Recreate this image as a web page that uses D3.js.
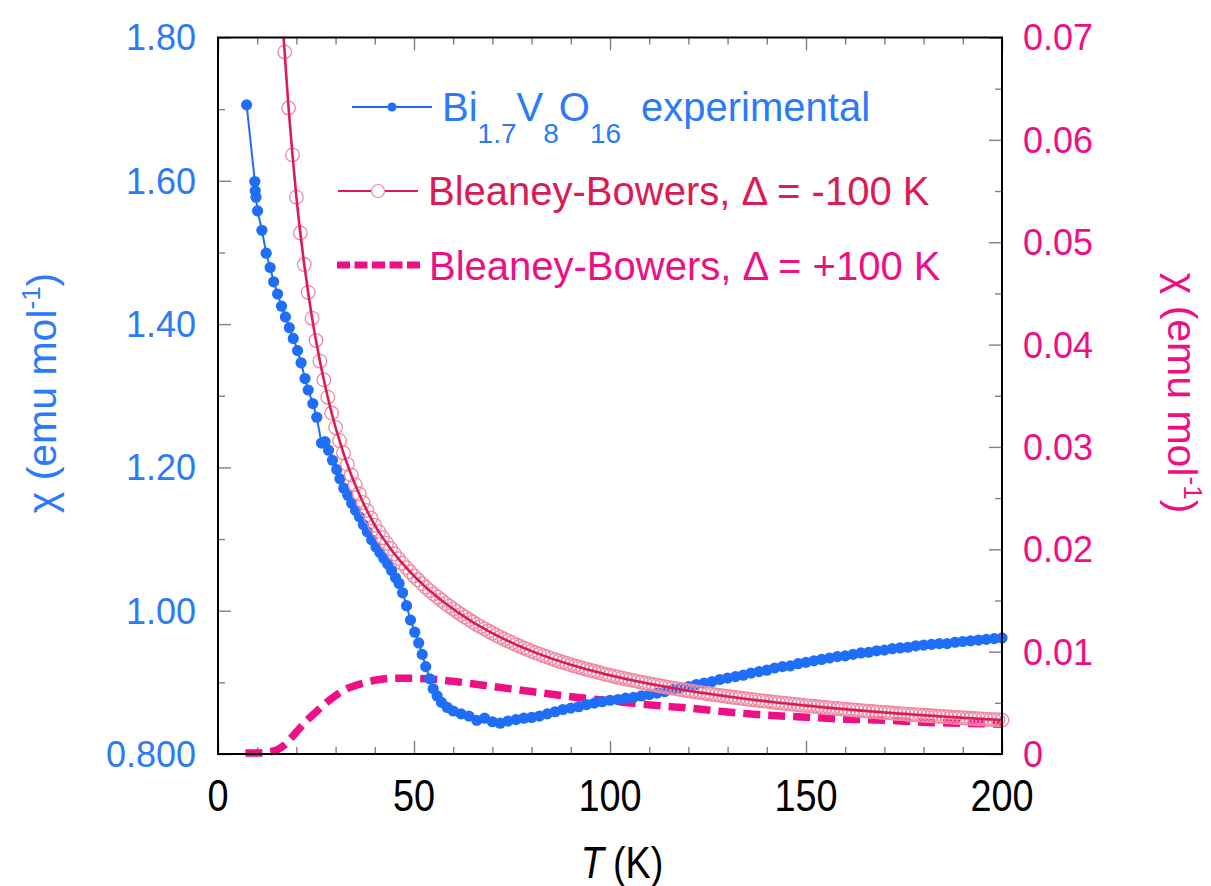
<!DOCTYPE html>
<html lang="en">
<head>
<meta charset="UTF-8">
<script src="https://cdn.jsdelivr.net/npm/d3@7/dist/d3.min.js"></script>
<title>Bi1.7V8O16 susceptibility</title>
<style>
  body { margin: 0; background: #fff; }
  text { font-family: "Liberation Sans", Arial, sans-serif; }
</style>
</head>
<body>
<svg width="1211" height="886"></svg>
<script>
  // measured susceptibility, left axis
  var expT = [7.3, 9.4, 9.5, 9.7, 10.1, 11.2, 12.3, 13.3, 14.2, 15.2, 16.2, 17.2, 18.2, 19.2, 20.3,
    21.2, 22.2, 23.0, 24.2, 25.2, 26.4, 27.3, 28.2, 29.2, 30.3, 31.1, 32.1, 33.1, 34.1, 35.1,
    36.1, 37.1, 38.1, 39.2, 40.3, 41.3, 42.3, 43.3, 44.3, 45.3, 46.2, 47.1, 48.1, 49.1, 50.2,
    51.2, 52.1, 53.0, 54.0, 54.9, 55.9, 57.0, 58.5, 60, 62, 64, 66, 68, 70, 72, 74, 76, 78, 80,
    82, 84, 86, 88, 90, 92, 94, 96, 98, 100, 102, 104, 106, 108, 110, 112, 114, 116, 118, 120,
    122, 124, 126, 128, 130, 132, 134, 136, 138, 140, 142, 144, 146, 148, 150, 152, 154, 156,
    158, 160, 162, 164, 166, 168, 170, 172, 174, 176, 178, 180, 182, 184, 186, 188, 190, 192,
    194, 196, 198, 200];
  var expChi = [1.706, 1.599, 1.586, 1.577, 1.558, 1.531, 1.499, 1.479, 1.459, 1.442, 1.425, 1.410, 1.395, 1.380, 1.363,
    1.346, 1.324, 1.308, 1.289, 1.270, 1.234, 1.236, 1.224, 1.210, 1.197, 1.184, 1.171, 1.161, 1.150, 1.140,
    1.131, 1.120, 1.110, 1.099, 1.089, 1.081, 1.073, 1.065, 1.056, 1.046, 1.038, 1.025, 1.007, 0.987, 0.970,
    0.955, 0.939, 0.922, 0.905, 0.891, 0.881, 0.872, 0.865, 0.860, 0.856, 0.853, 0.847, 0.850, 0.845, 0.843, 0.846, 0.848, 0.850, 0.851,
    0.853, 0.856, 0.859, 0.862, 0.864, 0.866, 0.869, 0.871, 0.873, 0.875, 0.876, 0.878, 0.879, 0.881, 0.883, 0.885, 0.887, 0.890, 0.892, 0.894,
    0.897, 0.899, 0.901, 0.904, 0.906, 0.908, 0.910, 0.913, 0.915, 0.917, 0.920, 0.922, 0.923, 0.926, 0.928, 0.930, 0.932, 0.934,
    0.936, 0.937, 0.939, 0.941, 0.942, 0.944, 0.945, 0.947, 0.948, 0.949, 0.951, 0.952, 0.953, 0.954, 0.954, 0.956, 0.957, 0.958,
    0.959, 0.960, 0.961, 0.962];

  // Bleaney-Bowers, Delta = -100 K (right axis), one point per kelvin
  var bbNegT = [16.5].concat(d3.range(17, 201));
  var bbNeg = [0.0713,
    0.06859, 0.06311, 0.05853, 0.05440, 0.05090, 0.04782, 0.04509, 0.04258, 0.04040, 0.03838,
    0.03656, 0.03486, 0.03331, 0.03190, 0.03061, 0.02941, 0.02830, 0.02726, 0.02631, 0.02542,
    0.02457, 0.02379, 0.02305, 0.02235, 0.02173, 0.02114, 0.02060, 0.02007, 0.01956, 0.01909,
    0.01864, 0.01821, 0.01780, 0.01740, 0.01702, 0.01665, 0.01630, 0.01596, 0.01564, 0.01532,
    0.01502, 0.01472, 0.01444, 0.01417, 0.01390, 0.01363, 0.01338, 0.01313, 0.01289, 0.01266,
    0.01244, 0.01222, 0.01201, 0.01180, 0.01160, 0.01141, 0.01122, 0.01104, 0.01087, 0.01069,
    0.01053, 0.01036, 0.01021, 0.01005, 0.00990, 0.00976, 0.00961, 0.00948, 0.00934, 0.00921,
    0.00909, 0.00896, 0.00884, 0.00872, 0.00861, 0.00850, 0.00839, 0.00828, 0.00818, 0.00808,
    0.00798, 0.00788, 0.00778, 0.00769, 0.00760, 0.00751, 0.00743, 0.00734, 0.00726, 0.00718,
    0.00710, 0.00702, 0.00694, 0.00686, 0.00679, 0.00672, 0.00665, 0.00658, 0.00651, 0.00644,
    0.00638, 0.00631, 0.00625, 0.00618, 0.00612, 0.00606, 0.00601, 0.00595, 0.00589, 0.00584,
    0.00578, 0.00573, 0.00568, 0.00562, 0.00557, 0.00552, 0.00547, 0.00542, 0.00537, 0.00533,
    0.00528, 0.00523, 0.00519, 0.00514, 0.00510, 0.00506, 0.00501, 0.00497, 0.00493, 0.00489,
    0.00485, 0.00481, 0.00477, 0.00473, 0.00470, 0.00466, 0.00462, 0.00458, 0.00455, 0.00451,
    0.00448, 0.00444, 0.00441, 0.00438, 0.00434, 0.00431, 0.00428, 0.00424, 0.00421, 0.00418,
    0.00415, 0.00412, 0.00409, 0.00406, 0.00403, 0.00400, 0.00397, 0.00394, 0.00392, 0.00389,
    0.00386, 0.00384, 0.00381, 0.00378, 0.00376, 0.00373, 0.00371, 0.00368, 0.00366, 0.00363,
    0.00361, 0.00358, 0.00356, 0.00354, 0.00351, 0.00349, 0.00347, 0.00345, 0.00343, 0.00340,
    0.00338, 0.00336, 0.00334, 0.00332];

  // Bleaney-Bowers, Delta = +100 K (right axis)
  var bbPosT = [7, 10, 13, 15, 17, 19, 21, 23, 25, 27, 30, 33, 36, 40, 45, 50, 55, 60, 70, 80,
    90, 100, 110, 120, 130, 140, 150, 160, 170, 180, 190, 200];
  var bbPos = [0.0001, 0.0001, 0.0002, 0.0004, 0.0009, 0.0017, 0.0026, 0.0034, 0.0041, 0.0048,
    0.0057, 0.0064, 0.0068, 0.0072, 0.0074, 0.0074, 0.0073, 0.0071, 0.0066, 0.0061,
    0.0056, 0.0052, 0.0048, 0.0045, 0.0041, 0.0038, 0.0036, 0.0034, 0.0033, 0.0031, 0.0030, 0.0029];

  var xTicks = [0, 50, 100, 150, 200];
  var xMinor = [10, 20, 30, 40, 60, 70, 80, 90, 110, 120, 130, 140, 160, 170, 180, 190];
  var leftTicks = [0.8, 1.0, 1.2, 1.4, 1.6, 1.8];
  var leftTickLabels = ["0.800", "1.00", "1.20", "1.40", "1.60", "1.80"];
  var leftMinor = [0.9, 1.1, 1.3, 1.5, 1.7];
  var rightTicks = [0, 0.01, 0.02, 0.03, 0.04, 0.05, 0.06, 0.07];
  var rightTickLabels = ["0", "0.01", "0.02", "0.03", "0.04", "0.05", "0.06", "0.07"];
  var rightMinor = [0.005, 0.015, 0.025, 0.035, 0.045, 0.055, 0.065];

  var blue = "#2b7af7", blueDot = "#1f6ef8";
  var crimson = "#dc1a55", pinkCircle = "#f08aa3", magenta = "#ee0f84";

  var svg = d3.select("svg");
  var pLeft = 218, pRight = 1002, pTop = 37.5, pBottom = 754;

  var x = d3.scaleLinear().domain([0, 200]).range([pLeft, pRight]);
  var yL = d3.scaleLinear().domain([0.8, 1.8]).range([pBottom, pTop]);
  var yR = d3.scaleLinear().domain([0, 0.07]).range([pBottom, pTop]);

  // only the top edge cuts the data off
  svg.append("clipPath").attr("id", "clip")
    .append("rect").attr("x", 0).attr("y", pTop).attr("width", 1211).attr("height", 886 - pTop);

  // ticks (inward)
  function tickAxis(axis, scale, vals, size, tx, ty) {
    var g = svg.append("g")
      .attr("transform", "translate(" + tx + "," + ty + ")")
      .call(axis(scale).tickValues(vals).tickSizeInner(-size).tickSizeOuter(0).tickFormat(""));
    g.select(".domain").remove();
    g.selectAll("line").attr("stroke", "#808080").attr("stroke-width", 1.4);
    g.selectAll("text").remove();
  }
  tickAxis(d3.axisBottom, x, xTicks, 13, 0, pBottom);
  tickAxis(d3.axisBottom, x, xMinor, 7, 0, pBottom);
  tickAxis(d3.axisTop, x, xTicks, 13, 0, pTop);
  tickAxis(d3.axisTop, x, xMinor, 7, 0, pTop);
  tickAxis(d3.axisLeft, yL, leftTicks, 13, pLeft, 0);
  tickAxis(d3.axisLeft, yL, leftMinor, 7, pLeft, 0);
  tickAxis(d3.axisRight, yR, rightTicks, 13, pRight, 0);
  tickAxis(d3.axisRight, yR, rightMinor, 7, pRight, 0);

  // squeeze a text horizontally (the x labels use a narrow face)
  function narrow(sel, k) {
    sel.each(function () {
      var w = this.getComputedTextLength();
      d3.select(this).attr("textLength", w * k).attr("lengthAdjust", "spacingAndGlyphs");
    });
  }

  // tick labels
  svg.selectAll(".xlab").data(xTicks).enter().append("text")
    .attr("x", d => x(d)).attr("y", 811)
    .attr("text-anchor", "middle").attr("font-size", 44).attr("fill", "#000")
    .text(d => d)
    .call(narrow, 0.86);
  svg.selectAll(".llab").data(leftTicks).enter().append("text")
    .attr("x", 196).attr("y", d => yL(d)).attr("dy", "0.36em")
    .attr("text-anchor", "end").attr("font-size", 36).attr("fill", blue)
    .text((d, i) => leftTickLabels[i]);
  svg.selectAll(".rlab").data(rightTicks).enter().append("text")
    .attr("x", 1023).attr("y", d => yR(d)).attr("dy", "0.36em")
    .attr("text-anchor", "start").attr("font-size", 36).attr("fill", magenta)
    .text((d, i) => rightTickLabels[i]);

  var plot = svg.append("g").attr("clip-path", "url(#clip)");

  // +100 K dashed
  plot.append("path")
    .datum(bbPosT.map((t, i) => [t, bbPos[i]]))
    .attr("fill", "none").attr("stroke", magenta).attr("stroke-width", 7.5)
    .attr("stroke-dasharray", "17,8")
    .attr("d", d3.line().x(d => x(d[0])).y(d => yR(d[1])).curve(d3.curveMonotoneX));

  // experimental
  var expData = expT.map((t, i) => [t, expChi[i]]);
  plot.append("path").datum(expData)
    .attr("fill", "none").attr("stroke", blueDot).attr("stroke-width", 2)
    .attr("d", d3.line().x(d => x(d[0])).y(d => yL(d[1])));
  plot.selectAll(".dot").data(expData).enter().append("circle")
    .attr("cx", d => x(d[0])).attr("cy", d => yL(d[1])).attr("r", 5.6)
    .attr("fill", blueDot);

  // -100 K circles and line
  var negData = bbNegT.map((t, i) => [t, bbNeg[i]]);
  plot.selectAll(".ring").data(negData).enter().append("circle")
    .attr("cx", d => x(d[0])).attr("cy", d => yR(d[1])).attr("r", 6.8)
    .attr("fill", "none").attr("stroke", pinkCircle).attr("stroke-width", 1.3);
  plot.append("path").datum(negData)
    .attr("fill", "none").attr("stroke", crimson).attr("stroke-width", 2.6)
    .attr("d", d3.line().x(d => x(d[0])).y(d => yR(d[1])).curve(d3.curveMonotoneX));

  // frame
  svg.append("rect")
    .attr("x", pLeft).attr("y", pTop).attr("width", pRight - pLeft).attr("height", pBottom - pTop)
    .attr("fill", "none").attr("stroke", "#000").attr("stroke-width", 2);

  // legend
  svg.append("line").attr("x1", 352).attr("x2", 432).attr("y1", 107).attr("y2", 107)
    .attr("stroke", blueDot).attr("stroke-width", 2);
  svg.append("circle").attr("cx", 392).attr("cy", 107).attr("r", 4.5).attr("fill", blueDot);
  var t1 = svg.append("text").attr("x", 442).attr("y", 121).attr("font-size", 40).attr("fill", blue);
  t1.append("tspan").text("Bi");
  t1.append("tspan").attr("dy", 22).attr("font-size", 28).text("1.7");
  t1.append("tspan").attr("dy", -22).text("V");
  t1.append("tspan").attr("dy", 22).attr("font-size", 28).text("8");
  t1.append("tspan").attr("dy", -22).text("O");
  t1.append("tspan").attr("dy", 22).attr("font-size", 28).text("16");
  t1.append("tspan").attr("dy", -22).attr("dx", 20).text("experimental");

  svg.append("line").attr("x1", 338).attr("x2", 418).attr("y1", 191).attr("y2", 191)
    .attr("stroke", crimson).attr("stroke-width", 2);
  svg.append("circle").attr("cx", 378).attr("cy", 191).attr("r", 6.5)
    .attr("fill", "#fff").attr("stroke", pinkCircle).attr("stroke-width", 1.2);
  svg.append("text").attr("x", 428).attr("y", 205).attr("font-size", 40).attr("fill", crimson)
    .text("Bleaney-Bowers, \u0394 = -100 K");

  svg.append("line").attr("x1", 337).attr("x2", 420).attr("y1", 265).attr("y2", 265)
    .attr("stroke", magenta).attr("stroke-width", 7).attr("stroke-dasharray", "13,4.5");
  svg.append("text").attr("x", 429).attr("y", 280).attr("font-size", 40).attr("fill", magenta)
    .text("Bleaney-Bowers, \u0394 = +100 K");

  // axis titles
  var lt = svg.append("text").attr("transform", "translate(56,393) rotate(-90)")
    .attr("text-anchor", "middle").attr("font-size", 41).attr("fill", blue);
  lt.append("tspan").text("\u03c7 (emu mol");
  lt.append("tspan").attr("dy", -16).attr("font-size", 26).text("-1");
  lt.append("tspan").attr("dy", 16).text(")");

  var rt = svg.append("text").attr("transform", "translate(1168,393) rotate(90)")
    .attr("text-anchor", "middle").attr("font-size", 41).attr("fill", magenta);
  rt.append("tspan").text("\u03c7 (emu mol");
  rt.append("tspan").attr("dy", -16).attr("font-size", 26).text("-1");
  rt.append("tspan").attr("dy", 16).text(")");

  // x title: italic T and (K) as two pieces
  svg.append("text").attr("x", 604).attr("y", 878)
    .attr("text-anchor", "end").attr("font-size", 44).attr("font-style", "italic").attr("fill", "#000")
    .text("T").call(narrow, 0.86);
  svg.append("text").attr("x", 613).attr("y", 878)
    .attr("text-anchor", "start").attr("font-size", 44).attr("fill", "#000")
    .text("(K)").call(narrow, 0.86);
</script>
</body>
</html>
